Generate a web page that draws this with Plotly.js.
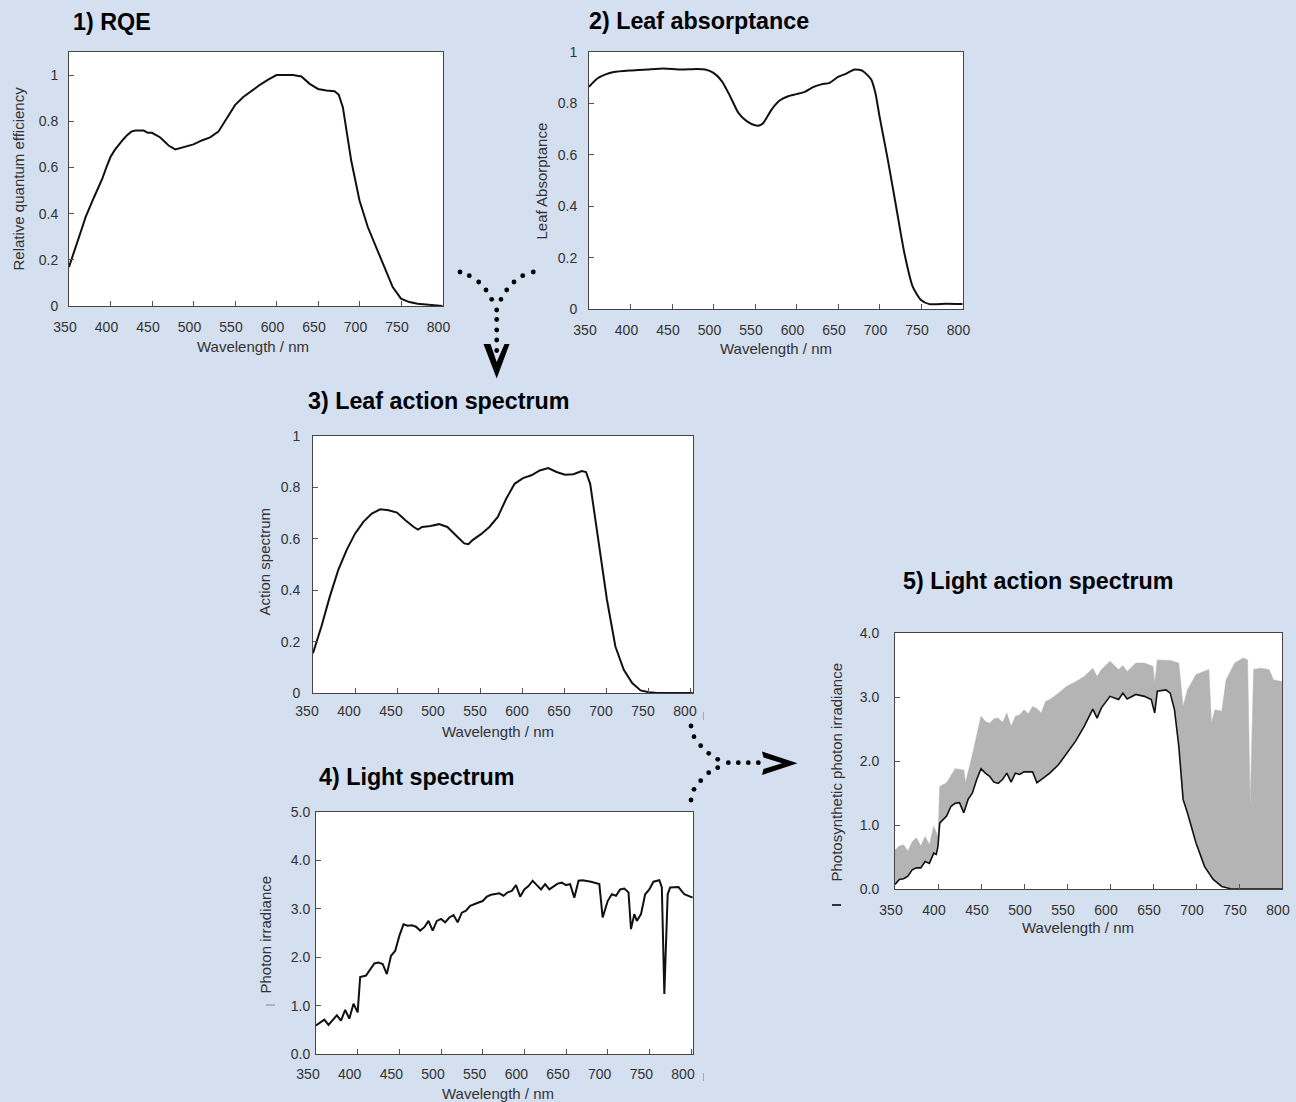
<!DOCTYPE html>
<html>
<head>
<meta charset="utf-8">
<script src="https://cdn.plot.ly/plotly-3.0.1.min.js"></script>
<style>html,body{margin:0;padding:0;background:#d4dff0;}#chart{width:1296px;height:1102px;}</style>
</head>
<body>
<div id="chart"></div>
<script>
// ---------- DATA ----------
// 1) RQE
const wl1 = [350,355,360,365,370,375,380,385,390,395,400,405,410,415,420,425,430,440,445,450,460,470,478,490,500,510,520,530,540,550,560,570,580,590,600,610,620,630,640,650,660,670,675,680,690,700,710,720,730,740,750,760,770,780,790,800];
const rqe = [0.169,0.22,0.27,0.33,0.385,0.43,0.47,0.51,0.55,0.60,0.645,0.675,0.70,0.72,0.74,0.755,0.76,0.76,0.75,0.75,0.73,0.695,0.678,0.69,0.70,0.717,0.73,0.755,0.81,0.87,0.905,0.933,0.958,0.98,1.0,1.0,1.0,0.994,0.962,0.94,0.933,0.93,0.915,0.86,0.63,0.457,0.342,0.255,0.169,0.082,0.032,0.017,0.01,0.007,0.003,0.0];

// 2) Leaf absorptance
const wl2 = [350,360,370,380,400,420,440,460,480,490,500,510,520,530,540,550,555,560,570,580,590,600,610,620,630,640,650,660,670,680,690,695,700,710,720,730,740,750,760,780,800];
const absorb = [0.865,0.897,0.913,0.922,0.928,0.932,0.936,0.932,0.934,0.932,0.919,0.887,0.828,0.763,0.731,0.715,0.714,0.724,0.776,0.812,0.828,0.836,0.845,0.863,0.874,0.880,0.903,0.916,0.932,0.926,0.893,0.841,0.75,0.581,0.399,0.217,0.087,0.035,0.019,0.02,0.019];

// 3) Leaf action spectrum
const wl3 = [350,360,370,380,390,400,410,420,430,440,450,460,470,475,480,490,500,510,520,530,535,540,550,560,570,580,590,600,610,620,630,640,650,660,670,675,680,690,700,710,720,730,740,750,760,802];
const action = [0.155,0.259,0.375,0.478,0.556,0.62,0.666,0.698,0.715,0.711,0.702,0.672,0.646,0.636,0.646,0.65,0.657,0.646,0.614,0.582,0.579,0.595,0.618,0.646,0.685,0.756,0.814,0.836,0.847,0.866,0.875,0.86,0.849,0.851,0.864,0.86,0.814,0.595,0.362,0.181,0.09,0.039,0.01,0.003,0.0,0.0];

// 4) Light spectrum
const wl4 = [350,355,360,365,370,375,380,385,390,395,400,403,410,415,420,425,430,435,440,445,450,455,460,465,470,475,480,485,490,495,500,505,510,515,520,525,530,535,540,545,550,555,560,570,575,580,585,590,595,600,605,610,615,620,625,630,640,645,650,655,660,665,670,680,690,694,700,705,710,715,720,725,728,732,735,740,745,750,755,762,765,768,772,775,785,792,802];
const light = [0.59,0.66,0.71,0.60,0.69,0.80,0.69,0.91,0.73,1.04,0.86,1.59,1.62,1.76,1.87,1.89,1.86,1.65,2.03,2.13,2.44,2.68,2.65,2.66,2.63,2.55,2.62,2.75,2.55,2.75,2.79,2.72,2.82,2.87,2.72,2.92,2.96,3.06,3.10,3.13,3.16,3.25,3.29,3.32,3.27,3.34,3.37,3.49,3.25,3.40,3.47,3.58,3.49,3.40,3.51,3.40,3.52,3.54,3.49,3.51,3.23,3.58,3.59,3.56,3.51,2.82,3.16,3.30,3.27,3.40,3.42,3.34,2.58,2.89,2.75,2.89,3.30,3.40,3.56,3.59,3.44,1.24,3.30,3.44,3.45,3.30,3.23];

// 5) Light action spectrum: grey = incident light, black = photosynthetic photon irradiance
const wl5g = [350,355,360,365,370,375,380,385,390,395,400,402,410,420,430,432,440,450,455,460,465,470,475,480,485,490,495,500,505,510,515,520,525,530,540,550,560,570,580,585,590,600,610,615,620,630,640,650,652,655,670,680,685,690,700,705,715,718,722,730,735,745,755,760,763,767,775,785,790,800];
const light5 = [0.61,0.67,0.69,0.59,0.74,0.80,0.67,0.82,0.69,0.98,0.82,1.60,1.66,1.88,1.86,1.66,2.10,2.70,2.62,2.59,2.66,2.67,2.60,2.75,2.54,2.70,2.72,2.80,2.74,2.85,2.82,2.75,2.93,2.96,3.06,3.17,3.24,3.32,3.45,3.32,3.43,3.56,3.43,3.49,3.40,3.53,3.53,3.48,3.22,3.58,3.57,3.53,2.85,3.11,3.35,3.38,3.43,2.59,2.80,2.78,3.27,3.53,3.61,3.58,1.29,3.43,3.45,3.43,3.27,3.24];
const wl5b = [350,355,360,365,370,375,380,385,390,395,398,400,402,410,415,420,425,430,435,440,445,450,455,460,465,470,475,480,485,490,495,500,510,515,520,530,540,550,560,570,580,585,590,600,610,615,620,630,640,648,652,655,665,670,675,680,685,690,700,710,720,730,740,750,800];
const photo = [0.07,0.15,0.16,0.20,0.30,0.33,0.33,0.43,0.40,0.56,0.54,0.67,1.03,1.14,1.29,1.34,1.35,1.19,1.40,1.50,1.71,1.88,1.81,1.76,1.67,1.65,1.71,1.81,1.67,1.81,1.79,1.83,1.83,1.66,1.71,1.81,1.94,2.13,2.31,2.54,2.81,2.67,2.83,3.01,2.96,3.06,2.97,3.04,3.01,2.96,2.75,3.09,3.11,3.06,2.80,2.23,1.40,1.19,0.72,0.35,0.15,0.04,0.005,0.0,0.0];

const xTicks = [350,400,450,500,550,600,650,700,750,800];
const titles = ["1) RQE","2) Leaf absorptance","3) Leaf action spectrum","4) Light spectrum","5) Light action spectrum"];
const yTitles = ["Relative quantum efficiency","Leaf Absorptance","Action spectrum","Photon irradiance","Photosynthetic photon irradiance"];
const xTitle = "Wavelength / nm";

// ---------- LAYOUT HELPERS ----------
const W = 1296, H = 1102;
const PX = x => x / W;
const PY = y => 1 - y / H;
const FONT = "Liberation Sans, Arial, Helvetica, sans-serif";
const tickFont = {family: FONT, size: 14, color: "#333"};

function xAxis(l, r, range, anchor, shift, standoff) {
  return {domain: [PX(l), PX(r)], range: range, anchor: anchor,
    tickvals: xTicks, ticks: "inside", ticklen: 5, tickcolor: "#555", tickwidth: 1,
    showline: true, mirror: true, linecolor: "#444", linewidth: 1,
    showgrid: false, zeroline: false, tickfont: tickFont,
    ticklabelstandoff: standoff, ticklabelshift: shift};
}
function yAxis(t, b, range, anchor, dtick, fmt, standoff) {
  const a = {domain: [PY(b), PY(t)], range: range, anchor: anchor,
    dtick: dtick, tick0: 0, ticks: "inside", ticklen: 5, tickcolor: "#555", tickwidth: 1,
    showline: true, mirror: true, linecolor: "#444", linewidth: 1,
    showgrid: false, zeroline: false, tickfont: tickFont, ticklabelstandoff: standoff};
  if (fmt) a.tickformat = fmt;
  return a;
}

const lineStyle = {color: "#111", width: 2};
const traces = [
  {x: wl1, y: rqe, xaxis: "x", yaxis: "y", mode: "lines", line: lineStyle, hoverinfo: "skip"},
  {x: wl2, y: absorb, xaxis: "x2", yaxis: "y2", mode: "lines", line: {color: "#111", width: 2, shape: "spline", smoothing: 0.6}, hoverinfo: "skip"},
  {x: wl3, y: action, xaxis: "x3", yaxis: "y3", mode: "lines", line: lineStyle, hoverinfo: "skip"},
  {x: wl4, y: light, xaxis: "x4", yaxis: "y4", mode: "lines", line: lineStyle, hoverinfo: "skip"},
  {x: wl5g, y: light5, xaxis: "x5", yaxis: "y5", mode: "lines", fill: "tozeroy", fillcolor: "#b4b4b4", line: {color: "#b4b4b4", width: 0.5}, hoverinfo: "skip"},
  {x: wl5b, y: photo, xaxis: "x5", yaxis: "y5", mode: "lines", fill: "tozeroy", fillcolor: "#ffffff", line: {color: "#111", width: 1.6}, hoverinfo: "skip"}
];

// annotations (titles)
const ann = [];
const titlePos = [[71, 21], [587, 20.5], [306, 400.5], [317, 776.5], [901, 580.5]];
titles.forEach((t, i) => ann.push({text: "<b>" + t + "</b>", xref: "paper", yref: "paper",
  x: PX(titlePos[i][0]), y: PY(titlePos[i][1] + 0.5), xanchor: "left", yanchor: "middle",
  showarrow: false, font: {family: FONT, size: 23.3, color: "#000"}}));
const yTitlePos = [[17.5, 179], [541, 181.5], [263.5, 562], [264.5, 935], [836, 772.5]];
yTitles.forEach((t, i) => ann.push({text: t, xref: "paper", yref: "paper",
  x: PX(yTitlePos[i][0]), y: PY(yTitlePos[i][1]), xanchor: "center", yanchor: "middle",
  textangle: -90, showarrow: false, font: {family: FONT, size: 15, color: "#333"}}));
const xTitlePos = [[253, 347], [776, 348], [498, 731.5], [498, 1093], [1078, 927]];
xTitlePos.forEach(p => ann.push({text: xTitle, xref: "paper", yref: "paper",
  x: PX(p[0]), y: PY(p[1]), xanchor: "center", yanchor: "middle",
  showarrow: false, font: {family: FONT, size: 15, color: "#333"}}));

// decorative dotted arrows (layout shapes in paper coordinates)
const shapes = [];
function dot(cx, cy) {
  const r = 2.4;
  shapes.push({type: "circle", xref: "paper", yref: "paper",
    x0: PX(cx - r), x1: PX(cx + r), y0: PY(cy + r), y1: PY(cy - r),
    fillcolor: "#000", line: {width: 0}});
}
function poly(pts) {
  const d = pts.map((p, i) => (i ? "L" : "M") + PX(p[0]).toFixed(5) + "," + PY(p[1]).toFixed(5)).join(" ") + " Z";
  shapes.push({type: "path", xref: "paper", yref: "paper", path: d, fillcolor: "#000", line: {width: 0}});
}
[[460,272],[469.3,275.7],[478.7,282],[486,290],[491.7,299.3],[501,299.3],[506.7,290],[514,282],[522.7,275.7],[533.3,272],
 [496.7,310],[496.7,319.5],[496.7,330],[496.7,340],[496.7,350.5]].forEach(p => dot(p[0], p[1]));
poly([[483.5,344],[496.7,378.5],[509.5,344],[504.5,344],[496.7,362],[490.5,344]]);
[[691,726],[694,736.7],[700.7,745.7],[708.7,753.3],[717.7,759.3],[717.7,767.7],[708.7,772.7],[700.7,780.7],[694,789.3],[691,800],
 [728.3,762.7],[738.3,762.7],[748.3,762.7],[758.3,762.7]].forEach(p => dot(p[0], p[1]));
poly([[762,751.5],[797.5,763.3],[762,775],[763.5,769],[782,763.3],[763.5,757.5]]);
// small stray marks present in the source figure
shapes.push({type: "line", xref: "paper", yref: "paper", x0: PX(266), x1: PX(275), y0: PY(1005), y1: PY(1005), line: {color: "#888", width: 1}});
shapes.push({type: "line", xref: "paper", yref: "paper", x0: PX(832), x1: PX(841), y0: PY(905), y1: PY(905), line: {color: "#333", width: 2}});
shapes.push({type: "line", xref: "paper", yref: "paper", x0: PX(703.5), x1: PX(703.5), y0: PY(712), y1: PY(720), line: {color: "#aaa", width: 1}});
shapes.push({type: "line", xref: "paper", yref: "paper", x0: PX(703.5), x1: PX(703.5), y0: PY(1073), y1: PY(1081), line: {color: "#aaa", width: 1}});

const layout = {
  width: W, height: H, autosize: false,
  margin: {l: 0, r: 0, t: 0, b: 0, pad: 0},
  paper_bgcolor: "#d4dff0", plot_bgcolor: "#ffffff",
  showlegend: false,
  font: {family: FONT, color: "#333"},
  xaxis: xAxis(69, 443, [350, 800.6], "y", -4, 8),
  yaxis: yAxis(52, 306, [0, 1.1], "x", 0.2, null, 7),
  xaxis2: xAxis(589, 963, [350, 800.6], "y2", -4, 8),
  yaxis2: yAxis(52, 309, [0, 1], "x2", 0.2, null, 8),
  xaxis3: xAxis(313, 693, [350, 802.4], "y3", -6, 5),
  yaxis3: yAxis(436, 693, [0, 1], "x3", 0.2, null, 9),
  xaxis4: xAxis(316, 693, [350, 802.4], "y4", -8, 7),
  yaxis4: yAxis(812, 1054, [0, 5], "x4", 1, ".1f", 2),
  xaxis5: xAxis(895, 1282, [350, 800], "y5", -4, 8),
  yaxis5: yAxis(633, 889, [0, 4], "x5", 1, ".1f", 12),
  annotations: ann,
  shapes: shapes
};

Plotly.newPlot("chart", traces, layout, {staticPlot: true, displayModeBar: false});
</script>
</body>
</html>
